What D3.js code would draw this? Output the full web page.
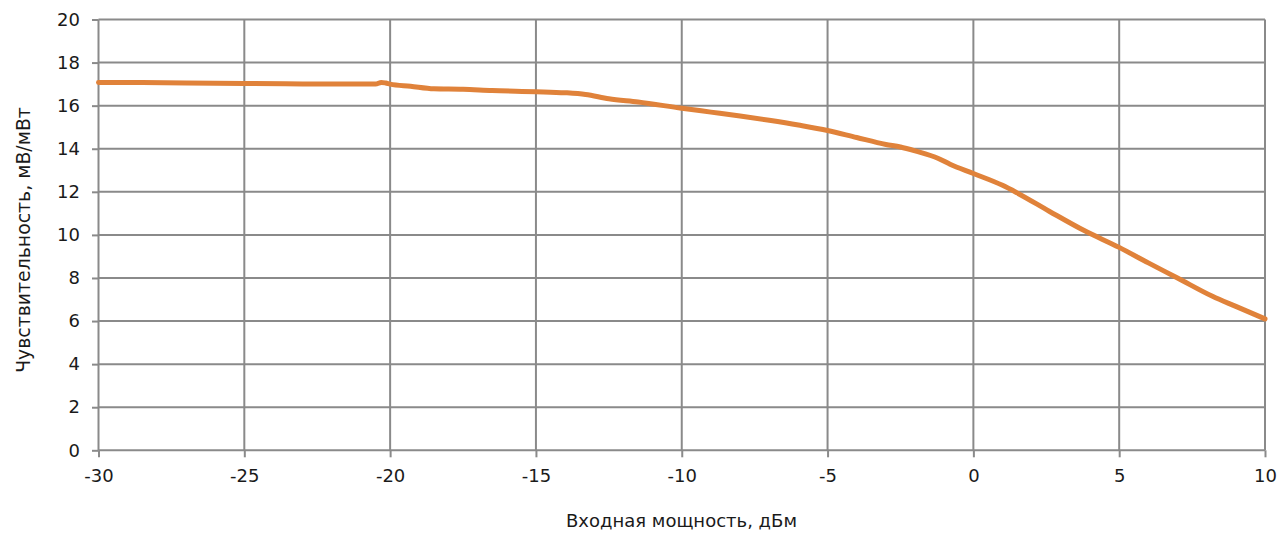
<!DOCTYPE html>
<html><head><meta charset="utf-8">
<script src="https://cdn.jsdelivr.net/npm/d3@7"></script>
<style>
html,body{margin:0;padding:0;background:#fff;}
svg{display:block;font-family:"DejaVu Sans",sans-serif;}
</style></head>
<body><svg id="c" width="1288" height="536"></svg>
<script>
const power = [-30,-28.5,-27,-25,-23,-21,-20.5,-20.3,-20.15,-20,-19.3,-18.5,-17.5,-16.5,-15,-14,-13.3,-12.5,-11.5,-10,-9,-8,-7,-6,-5,-4,-3,-2.5,-2,-1.2,-0.8,0,1,1.5,2.6,3.8,5,6,7,8.2,9,10];
const sensitivity = [17.08,17.07,17.05,17.03,17.01,17.0,17.0,17.08,17.05,17.0,16.9,16.78,16.76,16.7,16.65,16.6,16.52,16.32,16.17,15.88,15.7,15.52,15.32,15.1,14.85,14.52,14.2,14.08,13.9,13.55,13.28,12.85,12.3,11.95,11.1,10.2,9.42,8.7,8.0,7.15,6.68,6.1];
const xTicks = [-30,-25,-20,-15,-10,-5,0,5,10];
const yTicks = [0,2,4,6,8,10,12,14,16,18,20];
const xTitle = "Входная мощность, дБм";
const yTitle = "Чувствительность, мВ/мВт";

const svg = d3.select("#c");
const L = 98.5, R = 1265, T = 19.5, B = 450.3;
const x = d3.scaleLinear().domain([-30,10]).range([L,R]);
const y = d3.scaleLinear().domain([0,20]).range([B,T]);
const grid = "#8a8a8a";
const txt = "#1a1a1a";

svg.append("g").selectAll("line").data(yTicks).join("line")
  .attr("x1",L).attr("x2",R).attr("y1",d=>y(d)).attr("y2",d=>y(d))
  .attr("stroke",grid).attr("stroke-width",2);
svg.append("g").selectAll("line").data(xTicks).join("line")
  .attr("y1",T).attr("y2",B).attr("x1",d=>x(d)).attr("x2",d=>x(d))
  .attr("stroke",grid).attr("stroke-width",2);

const yAxis = svg.append("g").attr("transform",`translate(${L},0)`)
  .call(d3.axisLeft(y).tickValues(yTicks).tickSize(6.5).tickPadding(12).tickFormat(d3.format("d")));
const xAxis = svg.append("g").attr("transform",`translate(0,${B})`)
  .call(d3.axisBottom(x).tickValues(xTicks).tickSize(7).tickPadding(11.5).tickFormat(d=>String(d)));
[yAxis,xAxis].forEach(a=>{
  a.select(".domain").remove();
  a.selectAll(".tick line").attr("stroke",grid).attr("stroke-width",2);
  a.selectAll(".tick text").attr("fill",txt).style("font-size","18px").style("font-family","'DejaVu Sans',sans-serif");
});

svg.append("path").datum(power.map((p,i)=>[p,sensitivity[i]]))
  .attr("fill","none").attr("stroke","#e0823a").attr("stroke-width",5)
  .attr("stroke-linejoin","round").attr("stroke-linecap","round")
  .attr("d",d3.line().x(d=>x(d[0])).y(d=>y(d[1])).curve(d3.curveMonotoneX));

function fit(sel, target){
  sel.style("font-size","16px");
  const w = sel.node().getComputedTextLength();
  sel.style("font-size",(16*target/w).toFixed(2)+"px");
}
const xt = svg.append("text").attr("x",681.5).attr("y",527).attr("text-anchor","middle")
  .attr("fill",txt).text(xTitle);
fit(xt,231);
const yt = svg.append("text").attr("transform",`translate(30,240) rotate(-90)`).attr("text-anchor","middle")
  .attr("fill",txt).text(yTitle);
fit(yt,266);
</script></body></html>
